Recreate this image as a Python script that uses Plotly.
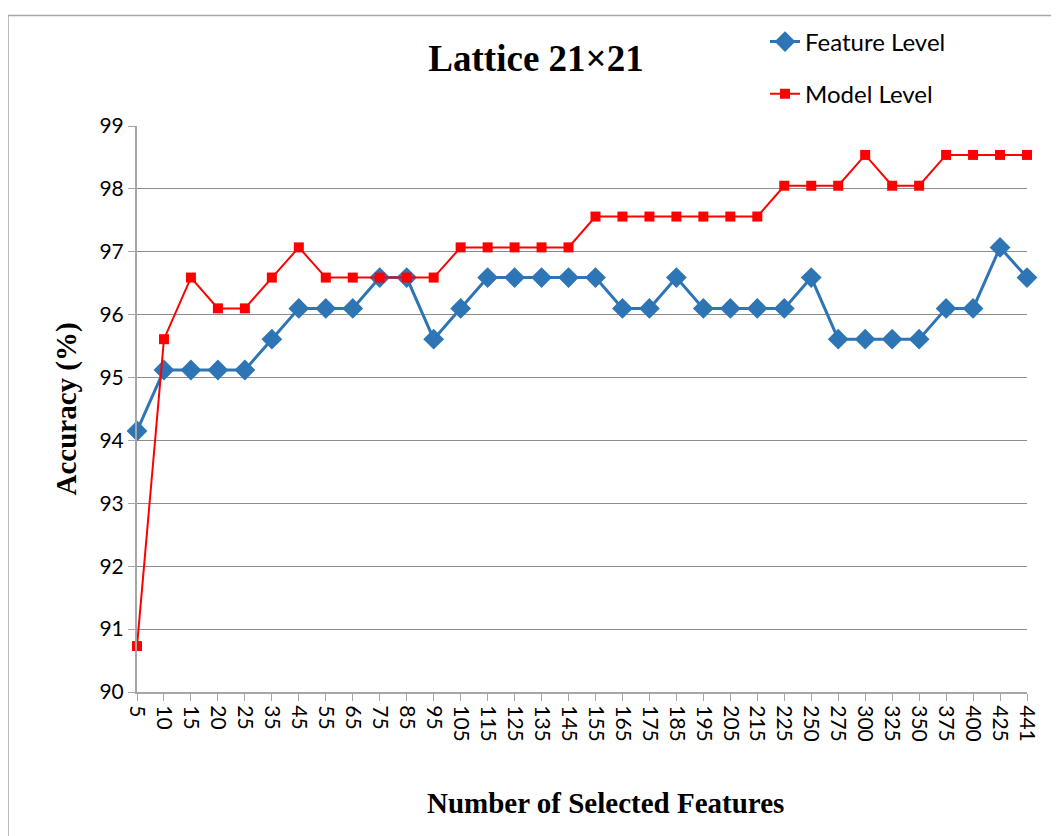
import plotly.graph_objects as go

n_features = [
    "5", "10", "15", "20", "25", "35", "45", "55", "65", "75", "85", "95",
    "105", "115", "125", "135", "145", "155", "165", "175", "185", "195",
    "205", "215", "225", "250", "275", "300", "325", "350", "375", "400",
    "425", "441",
]

feature_level = [
    94.15, 95.12, 95.12, 95.12, 95.12, 95.61, 96.10, 96.10, 96.10, 96.59,
    96.59, 95.61, 96.10, 96.59, 96.59, 96.59, 96.59, 96.59, 96.10, 96.10,
    96.59, 96.10, 96.10, 96.10, 96.10, 96.59, 95.61, 95.61, 95.61, 95.61,
    96.10, 96.10, 97.07, 96.59,
]

model_level = [
    90.73, 95.61, 96.59, 96.10, 96.10, 96.59, 97.07, 96.59, 96.59, 96.59,
    96.59, 96.59, 97.07, 97.07, 97.07, 97.07, 97.07, 97.56, 97.56, 97.56,
    97.56, 97.56, 97.56, 97.56, 98.05, 98.05, 98.05, 98.54, 98.05, 98.05,
    98.54, 98.54, 98.54, 98.54,
]

serif = "Liberation Serif, Times New Roman, serif"
sans = "Lato, Open Sans, sans-serif"

# plot area in page pixels (page has an 8px body margin)
PL, PT, PW, PH = 137, 118, 890, 574

fig = go.Figure()

# Feature level series
fig.add_trace(
    go.Scatter(
        x=n_features,
        y=feature_level,
        mode="lines+markers",
        name="Feature Level",
        line=dict(color="#2E75B6", width=3),
        marker=dict(symbol="diamond", size=16, color="#2E75B6"),
        cliponaxis=False,
        legendgroup="a",
    )
)

# Model level series
fig.add_trace(
    go.Scatter(
        x=n_features,
        y=model_level,
        mode="lines+markers",
        name="Model Level",
        line=dict(color="#FF0000", width=2),
        marker=dict(symbol="square", size=10, color="#FF0000"),
        cliponaxis=False,
        legendgroup="b",
    )
)

fig.update_xaxes(
    type="category",
    range=[0, len(n_features) - 1],
    tickangle=90,
    tickfont=dict(family=sans, size=21, color="black"),
    showline=True,
    linecolor="#A6A6A6",
    linewidth=2,
    ticks="outside",
    ticklen=7,
    tickcolor="#A6A6A6",
    showgrid=False,
    zeroline=False,
)

fig.update_yaxes(
    range=[90, 99],
    dtick=1,
    tickfont=dict(family=sans, size=21, color="black"),
    showline=True,
    linecolor="#A6A6A6",
    linewidth=2,
    ticks="outside",
    ticklen=7,
    tickcolor="#A6A6A6",
    showgrid=True,
    gridcolor="#8C8C8C",
    gridwidth=1,
    zeroline=False,
    title=dict(
        text="<b>Accuracy (%)</b>",
        font=dict(family=serif, size=29, color="black"),
        standoff=14,
    ),
)

# x axis title, centred on the chart rather than the plot area
fig.add_annotation(
    text="<b>Number of Selected Features</b>",
    xref="paper",
    yref="paper",
    x=(605 - PL) / PW,
    y=(PT + PH - 805) / PH,
    xanchor="center",
    yanchor="middle",
    showarrow=False,
    font=dict(family=serif, size=29, color="black"),
)

# Chart frame (left and top edges visible in the picture)
fig.add_shape(
    type="rect",
    xref="paper",
    yref="paper",
    x0=(8 - PL) / PW,
    x1=1.2,
    y0=-0.4,
    y1=(PT + PH - 6) / PH,
    line=dict(color="#A6A6A6", width=1.5),
    layer="below",
)

fig.update_layout(
    width=1059,
    height=836,
    margin=dict(l=PL - 8, r=1059 - PL - PW + 8, t=PT - 8, b=836 - PT - PH + 8),
    paper_bgcolor="white",
    plot_bgcolor="white",
    title=dict(
        text="<b>Lattice 21×21</b>",
        font=dict(family=serif, size=37, color="black"),
        x=(536 - 8) / 1059,
        xanchor="center",
        y=1 - (58 - 8) / 836,
        yanchor="middle",
    ),
    legend=dict(
        x=(765 - PL) / PW,
        y=(PT + PH - 10) / PH,
        xanchor="left",
        yanchor="top",
        font=dict(family=sans, size=24, color="black"),
        tracegroupgap=18,
        bgcolor="rgba(0,0,0,0)",
    ),
    showlegend=True,
)

fig.write_html("out.html")
